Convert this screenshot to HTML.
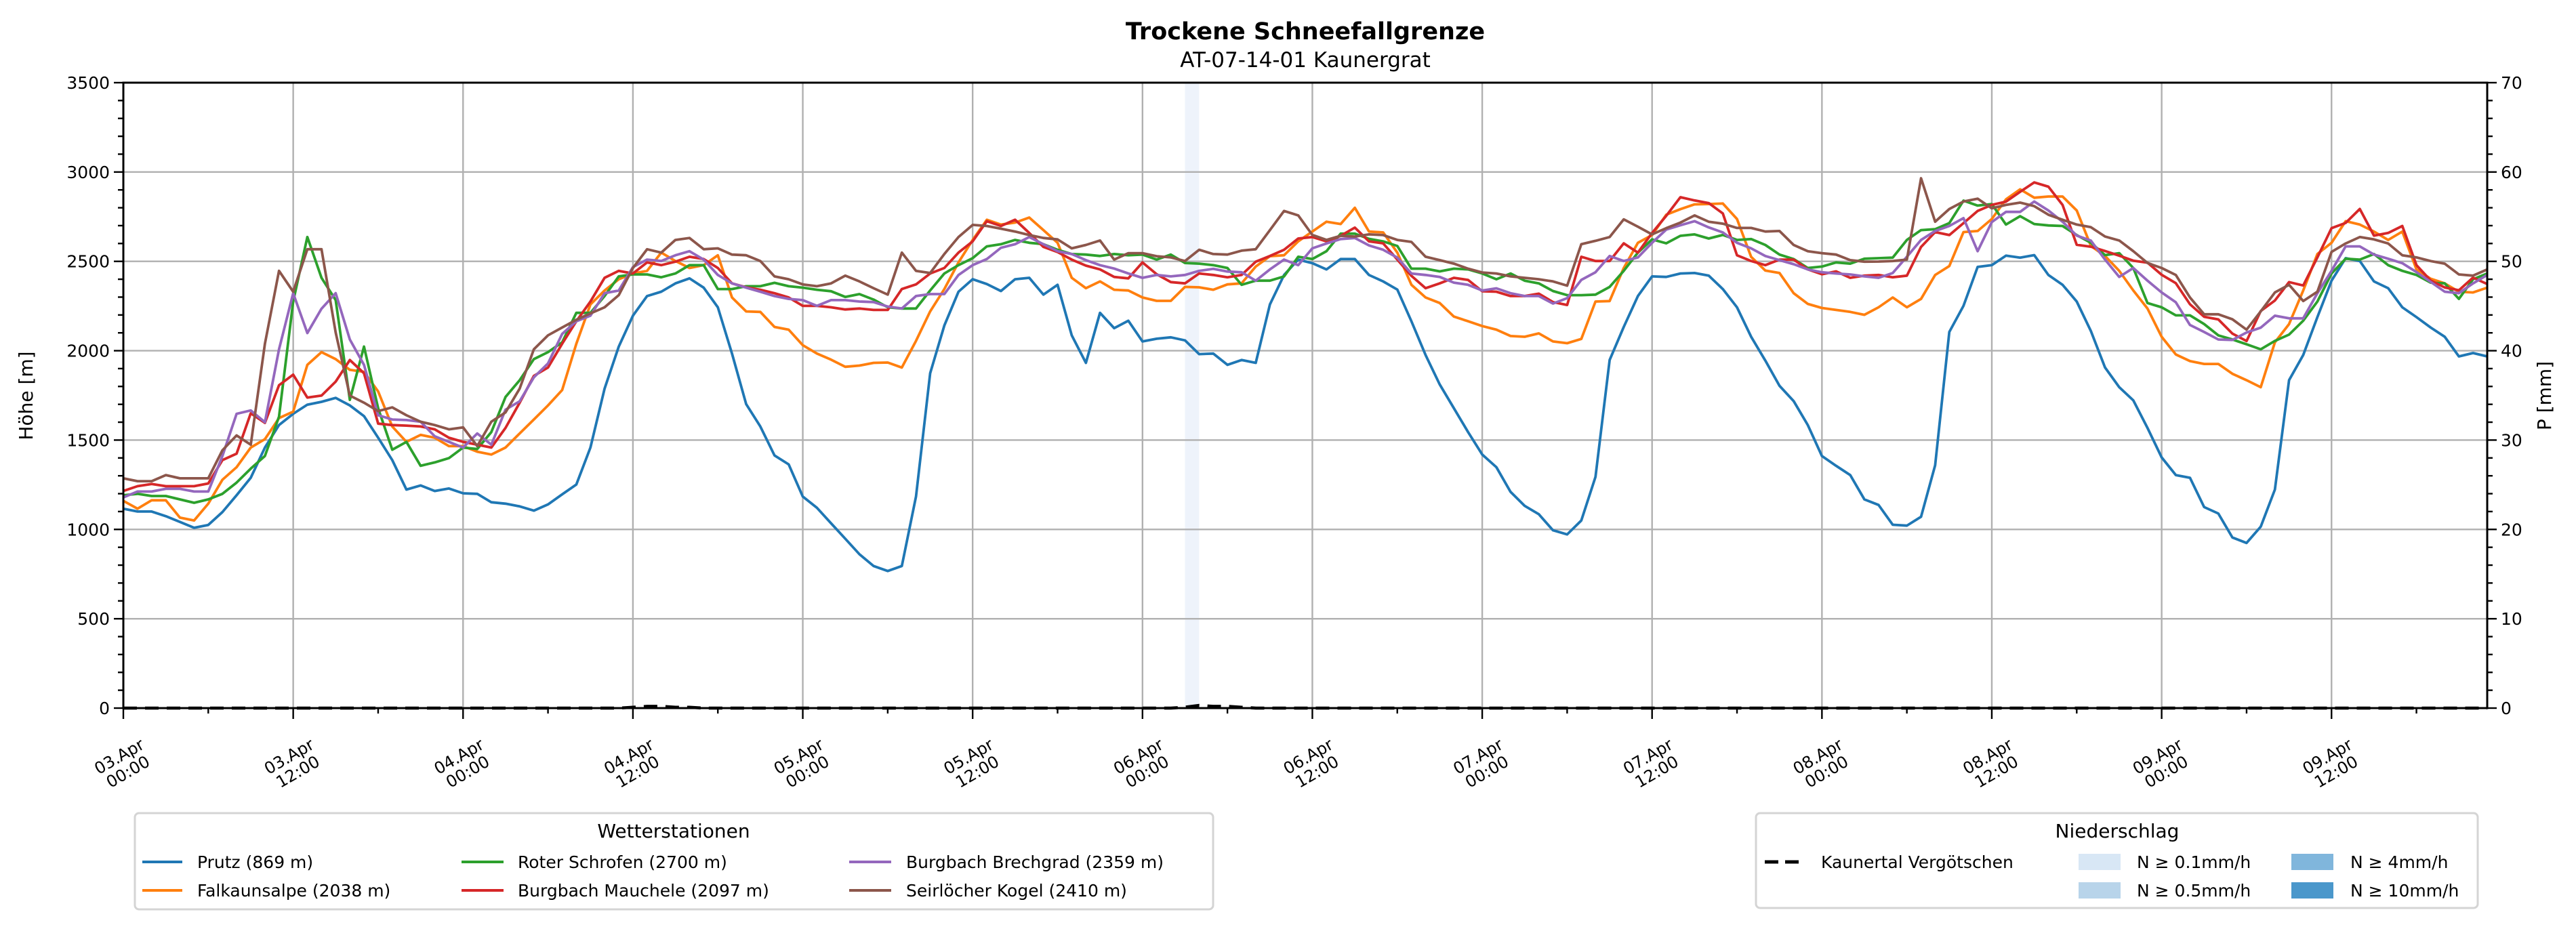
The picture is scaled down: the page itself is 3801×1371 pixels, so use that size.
<!DOCTYPE html>
<html><head><meta charset="utf-8"><title>Trockene Schneefallgrenze</title>
<style>
html,body{margin:0;padding:0;background:#fff;}
svg{display:block;font-family:"DejaVu Sans","Liberation Sans",sans-serif;}
</style></head>
<body>
<svg id="chart" xmlns="http://www.w3.org/2000/svg" width="3801" height="1371" viewBox="0 0 3801 1371">
<rect x="0" y="0" width="3801" height="1371" fill="#fff"/>
<text x="1926" y="58" text-anchor="middle" font-size="35" font-weight="bold">Trockene Schneefallgrenze</text>
<text x="1926" y="99" text-anchor="middle" font-size="31">AT-07-14-01 Kaunergrat</text>
<g id="bands"></g>
<g id="grid"></g>
<g id="series"></g>
<g id="axes"></g>
<text transform="translate(48,584) rotate(-90)" text-anchor="middle" font-size="28">Höhe [m]</text>
<text transform="translate(3764,584) rotate(-90)" text-anchor="middle" font-size="28">P [mm]</text>

<g>
<rect x="199" y="1200" width="1591" height="142" rx="6" fill="#fff" stroke="#d4d4d4" stroke-width="3"/>
<text x="994" y="1236" text-anchor="middle" font-size="28">Wetterstationen</text>
<g font-size="25">
<line x1="210" y1="1272" x2="269" y2="1272" stroke="#1f77b4" stroke-width="4"/><text x="291" y="1281">Prutz (869 m)</text>
<line x1="210" y1="1314" x2="269" y2="1314" stroke="#ff7f0e" stroke-width="4"/><text x="291" y="1323">Falkaunsalpe (2038 m)</text>
<line x1="681" y1="1272" x2="743" y2="1272" stroke="#2ca02c" stroke-width="4"/><text x="764" y="1281">Roter Schrofen (2700 m)</text>
<line x1="681" y1="1314" x2="743" y2="1314" stroke="#d62728" stroke-width="4"/><text x="764" y="1323">Burgbach Mauchele (2097 m)</text>
<line x1="1253" y1="1272" x2="1315" y2="1272" stroke="#9467bd" stroke-width="4"/><text x="1337" y="1281">Burgbach Brechgrad (2359 m)</text>
<line x1="1253" y1="1314" x2="1315" y2="1314" stroke="#8c564b" stroke-width="4"/><text x="1337" y="1323">Seirlöcher Kogel (2410 m)</text>
</g></g>

<g>
<rect x="2591" y="1200" width="1065" height="140" rx="6" fill="#fff" stroke="#d4d4d4" stroke-width="3"/>
<text x="3124" y="1236" text-anchor="middle" font-size="28">Niederschlag</text>
<g font-size="25">
<line x1="2604" y1="1272" x2="2660" y2="1272" stroke="#000" stroke-width="5" stroke-dasharray="20,10"/><text x="2687" y="1281">Kaunertal Vergötschen</text>
<rect x="3067" y="1260" width="62" height="24" fill="#d8e7f5"/><text x="3153" y="1281">N ≥ 0.1mm/h</text>
<rect x="3067" y="1302" width="62" height="24" fill="#b8d4ea"/><text x="3153" y="1323">N ≥ 0.5mm/h</text>
<rect x="3381" y="1260" width="62" height="24" fill="#80b6dc"/><text x="3468" y="1281">N ≥ 4mm/h</text>
<rect x="3381" y="1302" width="62" height="24" fill="#4a97cb"/><text x="3468" y="1323">N ≥ 10mm/h</text>
</g></g>
</svg>
<script>
const stationNames = ["Prutz","Falkaunsalpe","Roter Schrofen","Burgbach Mauchele","Burgbach Brechgrad","Seirlöcher Kogel"];
const stationColors = ["#1f77b4","#ff7f0e","#2ca02c","#d62728","#9467bd","#8c564b"];
const prutz = [1116,1100,1100,1074,1042,1009,1025,1097,1191,1289,1458,1584,1647,1698,1714,1736,1694,1634,1513,1388,1223,1246,1215,1229,1202,1199,1152,1144,1129,1105,1140,1196,1251,1458,1788,2023,2196,2306,2330,2377,2405,2353,
2243,1984,1701,1576,1414,1364,1184,1121,1034,948,861,795,767,795,1184,1874,2141,2330,2400,2373,2334,2400,2408,2314,2369,2086,1932,2212,2126,2168,2052,2067,2075,2058,1981,1984,1921,1948,1932,2259,2424,2510,
2490,2455,2513,2513,2424,2388,2342,2165,1976,1811,1678,1545,1419,1348,1210,1132,1085,995,972,1050,1294,1948,2133,2306,2416,2413,2432,2435,2420,2345,2243,2078,1945,1804,1718,1584,1411,1356,1304,1168,1137,1026,
1021,1071,1359,2105,2251,2469,2479,2532,2521,2535,2424,2369,2275,2110,1906,1796,1722,1568,1403,1304,1289,1125,1089,955,924,1015,1223,1835,1976,2188,2392,2518,2502,2388,2350,2243,2188,2130,2078,1968,1987,1968];
const falkaunsalpe = [1160,1116,1163,1163,1066,1050,1144,1278,1348,1458,1505,1623,1659,1921,1992,1953,1893,1882,1772,1576,1490,1529,1513,1466,1466,1435,1419,1458,1537,1615,1694,1780,2039,2259,2337,2400,2432,2447,2549,2502,2463,2479,
2534,2298,2220,2217,2133,2118,2031,1984,1950,1910,1917,1932,1934,1906,2055,2220,2345,2494,2620,2733,2706,2717,2745,2675,2604,2408,2350,2388,2341,2337,2298,2279,2279,2357,2355,2341,2371,2377,2471,2529,2534,2612,
2667,2722,2709,2800,2667,2662,2549,2369,2298,2267,2191,2165,2138,2118,2082,2078,2097,2052,2042,2066,2275,2278,2463,2604,2647,2761,2792,2819,2821,2824,2737,2525,2449,2435,2322,2262,2239,2228,2217,2201,2243,2298,
2243,2290,2424,2474,2664,2670,2737,2847,2903,2856,2863,2863,2785,2586,2530,2447,2337,2236,2078,1979,1942,1926,1926,1871,1835,1796,2047,2149,2337,2541,2604,2725,2706,2667,2620,2667,2455,2403,2377,2330,2326,2353];
const roterSchrofen = [1191,1199,1187,1187,1168,1149,1168,1199,1262,1340,1411,1631,2275,2636,2408,2283,1725,2023,1678,1446,1490,1356,1375,1399,1458,1450,1545,1741,1835,1953,1992,2047,2212,2212,2306,2416,2427,2427,2411,2432,2479,2479,
2345,2345,2361,2361,2380,2361,2353,2341,2333,2301,2317,2286,2243,2236,2236,2337,2432,2479,2518,2584,2596,2620,2604,2596,2565,2541,2538,2530,2541,2534,2538,2510,2538,2491,2487,2479,2463,2369,2392,2392,2416,2526,
2513,2557,2655,2655,2626,2612,2586,2459,2459,2444,2459,2455,2432,2400,2432,2392,2377,2334,2311,2311,2314,2357,2447,2549,2623,2601,2643,2651,2628,2648,2620,2625,2592,2538,2513,2463,2471,2494,2487,2515,2518,2521,
2620,2675,2680,2714,2840,2812,2821,2706,2753,2709,2701,2698,2647,2604,2535,2546,2463,2267,2243,2198,2198,2149,2086,2063,2036,2008,2055,2090,2168,2275,2432,2515,2510,2541,2479,2447,2424,2381,2377,2290,2400,2432];
const mauchele = [1215,1242,1254,1242,1242,1242,1257,1388,1424,1650,1596,1807,1866,1738,1749,1827,1948,1874,1592,1584,1581,1576,1560,1513,1490,1474,1458,1568,1709,1859,1906,2039,2165,2275,2408,2447,2432,2494,2479,2498,2526,2513,
2463,2377,2355,2341,2322,2298,2251,2251,2243,2231,2236,2228,2228,2345,2371,2432,2463,2549,2612,2725,2698,2733,2659,2581,2552,2510,2476,2455,2413,2405,2494,2428,2384,2377,2432,2424,2411,2424,2498,2530,2565,2628,
2636,2612,2643,2689,2612,2601,2510,2419,2350,2377,2408,2396,2333,2330,2306,2306,2319,2272,2256,2526,2502,2502,2601,2549,2659,2755,2859,2841,2826,2768,2534,2502,2479,2510,2510,2455,2428,2444,2408,2420,2424,2411,
2420,2581,2664,2647,2714,2782,2816,2834,2889,2942,2918,2816,2593,2582,2558,2532,2504,2493,2425,2378,2260,2190,2175,2096,2054,2222,2281,2384,2365,2522,2686,2715,2793,2644,2659,2698,2479,2393,2354,2338,2409,2373];
const brechgrad = [1179,1212,1212,1227,1227,1212,1212,1411,1647,1666,1600,2008,2322,2099,2235,2322,2063,1921,1639,1615,1612,1603,1521,1490,1458,1537,1474,1670,1717,1851,1929,2094,2165,2196,2322,2337,2468,2510,2502,2534,2557,2510,
2424,2377,2353,2330,2306,2290,2283,2251,2283,2283,2275,2272,2247,2236,2306,2317,2317,2424,2479,2513,2576,2596,2636,2596,2557,2541,2507,2479,2460,2432,2408,2424,2416,2424,2447,2458,2443,2439,2392,2455,2510,2479,
2573,2600,2625,2631,2589,2565,2521,2432,2424,2413,2381,2369,2337,2349,2322,2306,2306,2264,2294,2396,2439,2530,2502,2522,2604,2678,2702,2725,2690,2662,2604,2573,2530,2507,2484,2455,2439,2432,2427,2416,2408,2435,
2526,2620,2670,2698,2742,2557,2720,2777,2777,2835,2785,2722,2644,2616,2510,2413,2463,2392,2326,2271,2144,2105,2063,2060,2102,2129,2196,2181,2181,2322,2447,2584,2584,2538,2515,2490,2440,2385,2330,2322,2377,2424];
const seirloecher = [1286,1270,1270,1304,1286,1286,1286,1443,1526,1474,2039,2447,2330,2568,2568,2102,1749,1709,1662,1683,1639,1603,1584,1560,1571,1466,1603,1655,1788,2008,2086,2130,2173,2209,2243,2311,2463,2568,2549,2620,2631,2568,
2573,2538,2534,2502,2416,2400,2371,2361,2377,2420,2388,2350,2314,2549,2447,2435,2541,2636,2704,2698,2683,2667,2647,2631,2623,2573,2592,2617,2510,2546,2546,2529,2522,2502,2565,2541,2538,2560,2568,2675,2782,2757,
2648,2620,2643,2639,2651,2647,2620,2609,2526,2507,2487,2459,2438,2432,2416,2408,2400,2388,2364,2596,2615,2636,2735,2694,2651,2686,2717,2757,2722,2711,2687,2687,2667,2670,2592,2557,2546,2538,2507,2498,2499,2502,
2510,2965,2722,2793,2835,2851,2797,2816,2829,2809,2761,2733,2706,2691,2639,2617,2557,2491,2463,2424,2298,2204,2204,2176,2118,2220,2326,2369,2278,2330,2553,2600,2636,2623,2600,2534,2522,2502,2487,2427,2420,2455];
const precip = [0,0,0,0,0,0,0,0,0,0,0,0,0,0,0,0,0,0,0,0,0,0,0,0,
0,0,0,0,0,0,0,0,0,0,0,0,0.1,0.2,0.2,0.1,0.1,0,0,0,0,0,0,0,
0,0,0,0,0,0,0,0,0,0,0,0,0,0,0,0,0,0,0,0,0,0,0,0,
0,0,0,0.1,0.3,0.2,0.2,0.1,0,0,0,0,0,0,0,0,0,0,0,0,0,0,0,0,
0,0,0,0,0,0,0,0,0,0,0,0,0,0,0,0,0,0,0,0,0,0,0,0,
0,0,0,0,0,0,0,0,0,0,0,0,0,0,0,0,0,0,0,0,0,0,0,0,
0,0,0,0,0,0,0,0,0,0,0,0,0,0,0,0,0,0,0,0,0,0,0,0];
const precipBandStart = [75];
const precipBandClass = [0.1];
const yTicks = [0,500,1000,1500,2000,2500,3000,3500];
const y2Ticks = [0,10,20,30,40,50,60,70];
const xDayLabels = ["03.Apr","03.Apr","04.Apr","04.Apr","05.Apr","05.Apr","06.Apr","06.Apr","07.Apr","07.Apr","08.Apr","08.Apr","09.Apr","09.Apr"];
const xTimeLabels = ["00:00","12:00","00:00","12:00","00:00","12:00","00:00","12:00","00:00","12:00","00:00","12:00","00:00","12:00"];

const L=182,R=3670,T=122,B=1045,HMAX=167,YMAX=3500,PMAX=70;
const NS="http://www.w3.org/2000/svg";
function xS(h){return L+h*(R-L)/HMAX;}
function yS(v){return B-v*(B-T)/YMAX;}
function pS(p){return B-p*(B-T)/PMAX;}
function mk(tag,attrs,parent){const e=document.createElementNS(NS,tag);for(const k in attrs)e.setAttribute(k,attrs[k]);parent.appendChild(e);return e;}

const bands=document.getElementById('bands');
precipBandStart.forEach((h,i)=>{
  const r=mk('rect',{x:xS(h),y:T,width:xS(h+1)-xS(h),height:B-T,fill:'#eef3fb'},bands);
  
  
});

const grid=document.getElementById('grid');
for(let i=0;i<xDayLabels.length;i++){
  const x=xS(i*12);
  const g=mk('line',{x1:x,y1:T,x2:x,y2:B,stroke:'#b0b0b0','stroke-width':2.4},grid);
  
  
}
yTicks.forEach(v=>{
  const g=mk('line',{x1:L,y1:yS(v),x2:R,y2:yS(v),stroke:'#b0b0b0','stroke-width':2.4},grid);
  
  
});

const sg=document.getElementById('series');
const allSeries=[prutz,falkaunsalpe,roterSchrofen,mauchele,brechgrad,seirloecher];
allSeries.forEach((arr,si)=>{
  const d=arr.map((v,h)=>(h?'L':'M')+xS(h).toFixed(1)+','+yS(v).toFixed(1)).join(' ');
  const p=mk('path',{d:d,fill:'none',stroke:stationColors[si],'stroke-width':3.8,'stroke-linejoin':'round'},sg);
  
  
});
const pd=precip.map((v,h)=>(h?'L':'M')+xS(h).toFixed(1)+','+pS(v).toFixed(1)).join(' ');
const pl=mk('path',{d:pd,fill:'none',stroke:'#000','stroke-width':4.5,'stroke-dasharray':'20,12'},sg);



const ax=document.getElementById('axes');
const frame=mk('rect',{x:L,y:T,width:R-L,height:B-T,fill:'none',stroke:'#000','stroke-width':3},ax);


for(let v=0;v<=YMAX;v+=100){
  const major=v%500===0;
  mk('line',{x1:L-(major?14:8),y1:yS(v),x2:L,y2:yS(v),stroke:'#000','stroke-width':2.4},ax);
}
yTicks.forEach(v=>{
  const t=mk('text',{x:L-20,y:yS(v)+9,'text-anchor':'end','font-size':25},ax);
  t.textContent=v;
  
  
});
for(let p=0;p<=PMAX;p+=2){
  const major=p%10===0;
  mk('line',{x1:R,y1:pS(p),x2:R+(major?14:8),y2:pS(p),stroke:'#000','stroke-width':2.4},ax);
}
y2Ticks.forEach(p=>{
  const t=mk('text',{x:R+20,y:pS(p)+9,'text-anchor':'start','font-size':25},ax);
  t.textContent=p;
  
  
});
for(let h=0;h<=HMAX;h+=6){
  const major=h%12===0;
  mk('line',{x1:xS(h),y1:B,x2:xS(h),y2:B+(major?16:8),stroke:'#000','stroke-width':2.4},ax);
}
xDayLabels.forEach((d,i)=>{
  const x=xS(i*12), y=1127;
  const t=mk('text',{'text-anchor':'middle','font-size':24,transform:'rotate(-30 '+x+' '+y+')'},ax);
  const a=mk('tspan',{x:x,y:y-4},t); a.textContent=d;
  const b=mk('tspan',{x:x,y:y+22},t); b.textContent=xTimeLabels[i];
  
  
});
</script>
</body></html>
